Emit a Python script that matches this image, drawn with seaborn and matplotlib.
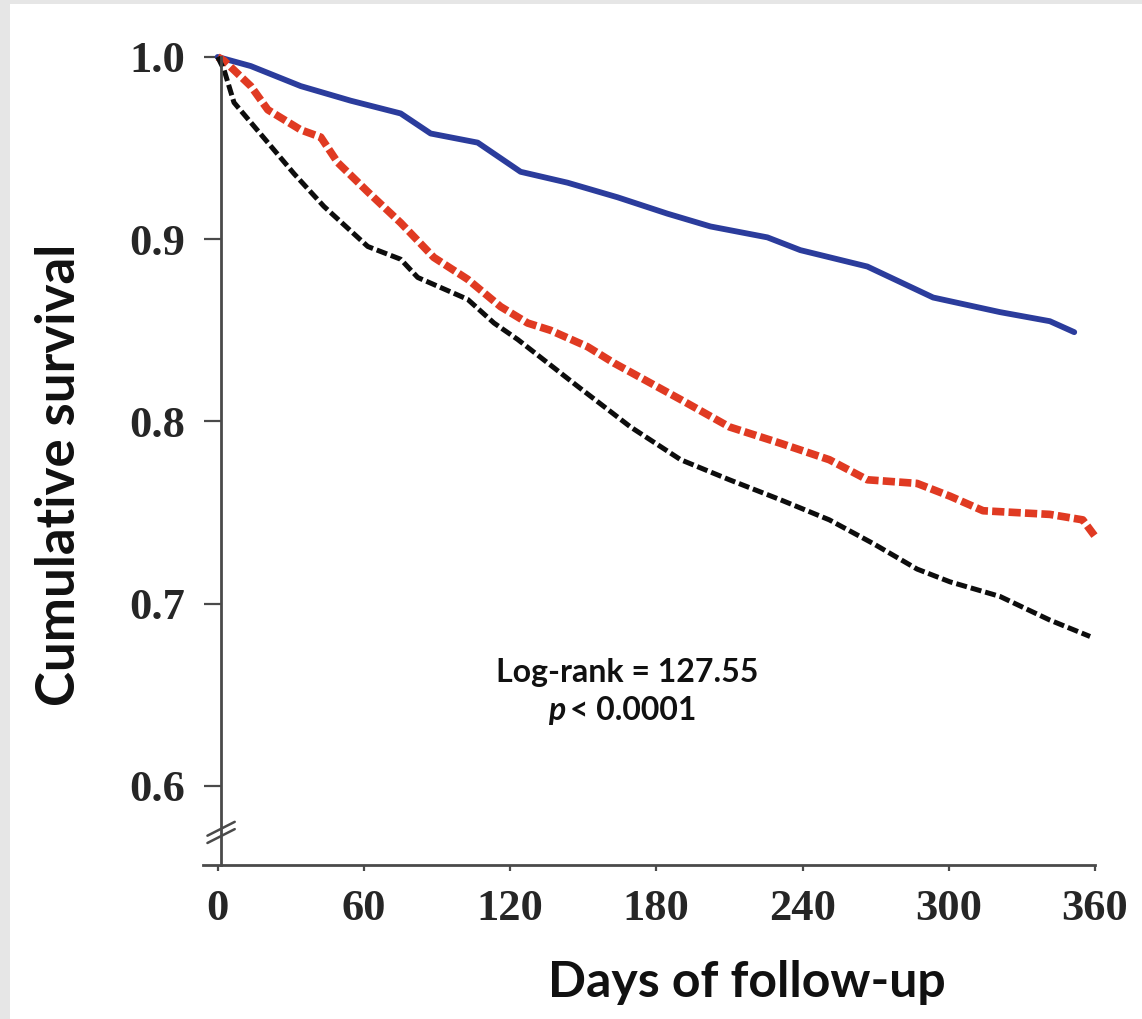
import matplotlib
matplotlib.use("Agg")
import pandas as pd
import matplotlib.pyplot as plt
import seaborn as sns
from matplotlib.patches import Rectangle

# values (days, cumulative survival)
blue_days = [0, 13.6, 34.1, 54.6, 75.1, 87.4, 106.7, 124.3, 143.6, 164.1, 184.6,
             202.2, 225.6, 239.1, 266.6, 293.6, 321.0, 341.5, 351.5]
blue_surv = [1.0, 0.995, 0.984, 0.976, 0.969, 0.958, 0.953, 0.937, 0.931, 0.923, 0.914,
             0.907, 0.901, 0.894, 0.885, 0.868, 0.860, 0.855, 0.849]

red_days = [0, 2.6, 13.6, 20.6, 34.1, 42.3, 49.3, 61.6, 75.1, 88.7, 102.6, 116.1,
            127.2, 136.6, 151.8, 162.7, 190.0, 210.0, 231.0, 251.0, 266.6, 287.0,
            300.5, 314.1, 341.5, 355.0, 360.0]
red_surv = [1.0, 0.998, 0.984, 0.971, 0.960, 0.956, 0.942, 0.926, 0.909, 0.890, 0.878, 0.863,
            0.854, 0.850, 0.841, 0.832, 0.812, 0.797, 0.788, 0.779, 0.768, 0.766,
            0.759, 0.751, 0.749, 0.746, 0.737]

black_days = [0, 2.6, 6.7, 20.6, 31.3, 43.6, 61.6, 75.1, 82.1, 102.6, 113.4, 123.1,
              148.0, 169.4, 190.0, 210.0, 231.0, 251.0, 269.0, 287.0, 300.5, 321.0,
              341.5, 358.0]
black_surv = [1.0, 0.993, 0.975, 0.953, 0.936, 0.918, 0.896, 0.889, 0.879, 0.867, 0.854, 0.845,
              0.819, 0.797, 0.779, 0.768, 0.757, 0.746, 0.733, 0.719, 0.712, 0.704,
              0.691, 0.682]

x_ticks = [0, 60, 120, 180, 240, 300, 360]
y_ticks = [0.6, 0.7, 0.8, 0.9, 1.0]

df = pd.concat([
    pd.DataFrame({"day": blue_days, "surv": blue_surv, "group": "blue"}),
    pd.DataFrame({"day": red_days, "surv": red_surv, "group": "red"}),
    pd.DataFrame({"day": black_days, "surv": black_surv, "group": "black"}),
])

styles = {
    "blue": dict(color="#2b3c9c", linewidth=4.2, linestyle="-"),
    "red": dict(color="#e03a22", linewidth=5.5, linestyle=(0, (1.6, 0.55))),
    "black": dict(color="#0d0d0d", linewidth=3.6, linestyle=(0, (2.2, 0.8))),
}

sns.set_style("ticks")
plt.rcParams["font.family"] = ["Liberation Serif", "DejaVu Serif"]
plt.rcParams["font.weight"] = "bold"

fig = plt.figure(figsize=(11.42, 10.19), dpi=100)
fig.patch.set_facecolor("#e6e6e6")
fig.patches.append(Rectangle((0.009, 0), 0.991, 0.996, transform=fig.transFigure,
                             facecolor="white", edgecolor="none", zorder=-1))
ax = fig.add_axes([0.1778, 0.1511, 0.781, 0.793])
ax.set_facecolor("none")

for grp in ["blue", "red", "black"]:
    sub = df[df["group"] == grp]
    sns.lineplot(data=sub, x="day", y="surv", ax=ax, sort=False, clip_on=False,
                 solid_capstyle="round", dash_capstyle="butt", **styles[grp])

ax.set_xlim(-6, 360)
ax.set_ylim(0.5566, 1.0)
ax.set_xticks(x_ticks)
ax.set_xticklabels([str(t) for t in x_ticks])
ax.set_yticks(y_ticks)
ax.set_yticklabels([f"{t:.1f}" for t in y_ticks])
ax.set_xlabel("")
ax.set_ylabel("")

spine_col = "#4a4a4a"
for side in ["top", "right"]:
    ax.spines[side].set_visible(False)
for side in ["left", "bottom"]:
    ax.spines[side].set_color(spine_col)
    ax.spines[side].set_linewidth(2)
ax.spines["left"].set_position(("data", 1.4))

ax.tick_params(axis="y", length=12, width=1.6, pad=14, labelsize=32, color=spine_col)
ax.tick_params(axis="x", length=4, width=1.6, pad=13, labelsize=32, color=spine_col)

# axis break marks on the y axis
for yb in [0.5725, 0.5765]:
    ax.plot([-4.2, 7.0], [yb - 0.0038, yb + 0.0038], color=spine_col, lw=1.8, clip_on=False)

ann_font = ["Lato", "DejaVu Sans"]
ax.text(168, 0.6571, "Log-rank = 127.55", ha="center", va="baseline",
        fontsize=23, family=ann_font, fontweight="bold", color="#111111")
ax.text(142.5, 0.6363, "p", ha="right", va="baseline", fontsize=23,
        family=ann_font, fontweight="bold", fontstyle="italic", color="#111111")
ax.text(144.5, 0.6363, "< 0.0001", ha="left", va="baseline", fontsize=23,
        family=ann_font, fontweight="bold", color="#111111")

fig.text(0.0517, 0.534, "Cumulative survival", rotation=90, ha="center", va="center",
         fontsize=38, family=["Liberation Sans Narrow", "Lato", "DejaVu Sans"],
         fontweight="bold", color="#111111")
fig.text(0.654, 0.0216, "Days of follow-up", ha="center", va="baseline",
         fontsize=36, family=ann_font, fontweight="bold", color="#111111")

fig.savefig("out.png", dpi=100, facecolor=fig.get_facecolor())
